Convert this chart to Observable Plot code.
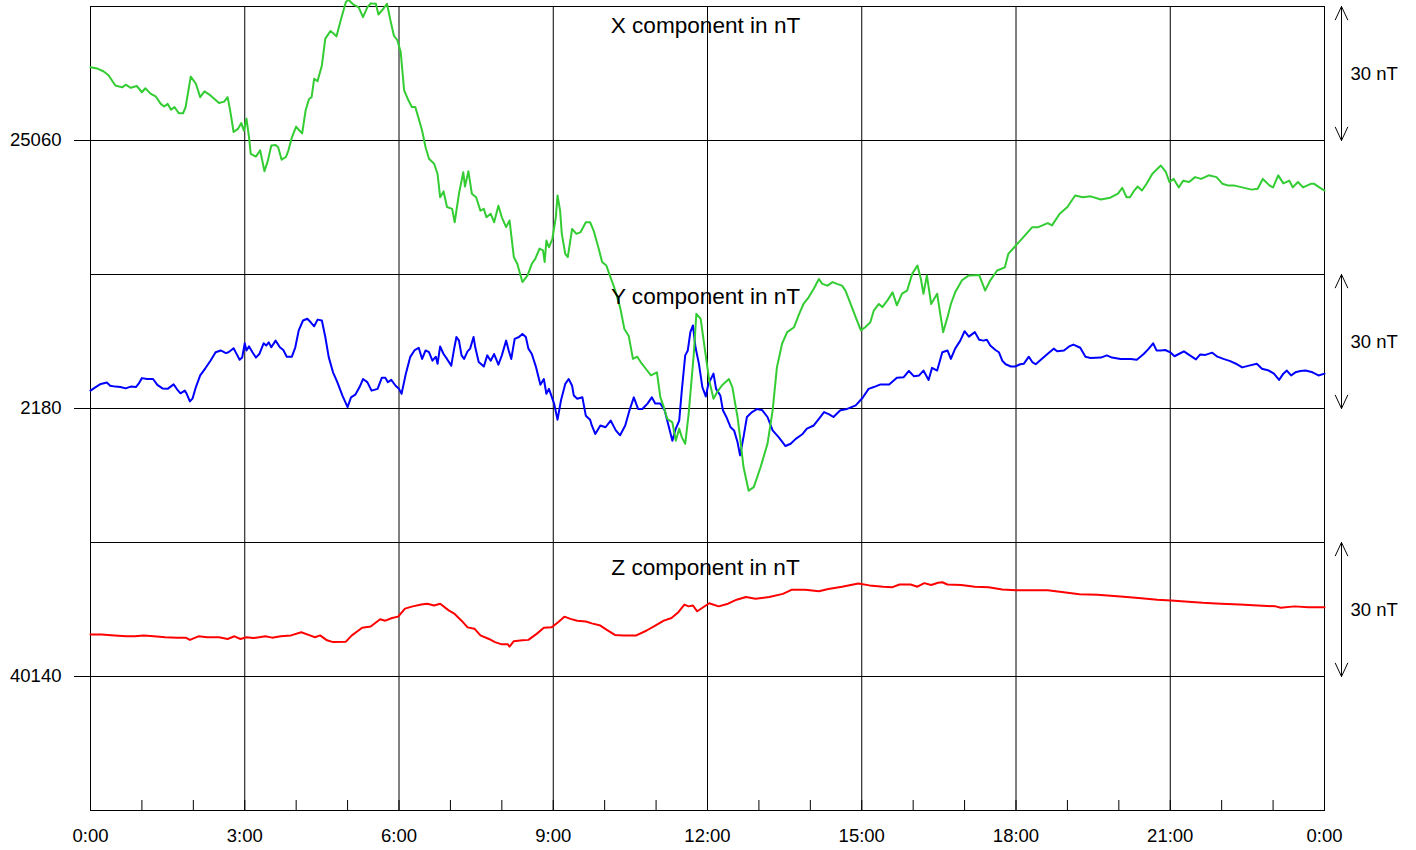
<!DOCTYPE html>
<html>
<head>
<meta charset="utf-8">
<script src="https://cdn.jsdelivr.net/npm/d3@7"></script>
<script src="https://cdn.jsdelivr.net/npm/@observablehq/plot@0.6"></script>
<style>
  html, body { margin: 0; padding: 0; background: #ffffff; }
  #chart svg { display: block; }
</style>
</head>
<body>
<div id="chart"></div>
<script>
// ---- Data (time in minutes since 0:00, value in nT) ----
const xComponent = [[0,25076.4],[8,25076.1],[15,25075.5],[21,25074.6],[29,25072.3],[37,25071.9],[41,25072.5],[47,25071.8],[54,25072.2],[60,25070.8],[64,25071.7],[70,25070.5],[76,25069.9],[82,25068.2],[86,25067.6],[90,25068.2],[94,25066.9],[98,25067.5],[103,25066.1],[108,25066.1],[111,25067.5],[117,25074.3],[123,25072.7],[128,25069.7],[133,25071.0],[140,25070.1],[150,25068.4],[156,25068.7],[160,25069.7],[163,25066.7],[167,25061.9],[172,25062.6],[176,25063.9],[179,25062.2],[182,25064.9],[185,25060.7],[187,25057.0],[193,25056.4],[198,25057.8],[200,25055.9],[203,25053.1],[207,25055.5],[211,25058.9],[216,25059.0],[219,25058.5],[223,25055.7],[228,25056.3],[231,25057.8],[235,25060.7],[240,25063.1],[243,25062.4],[247,25061.6],[251,25066.7],[255,25069.3],[258,25069.7],[261,25073.8],[265,25073.3],[270,25076.8],[274,25082.8],[280,25084.5],[284,25083.9],[287,25083.3],[292,25086.9],[298,25091.0],[301,25091.5],[307,25090.4],[313,25089.8],[318,25087.6],[323,25089.8],[327,25090.7],[333,25090.6],[336,25088.2],[340,25089.1],[346,25090.6],[350,25086.9],[354,25083.5],[358,25082.5],[362,25079.8],[366,25071.2],[371,25069.0],[375,25067.5],[379,25067.5],[383,25064.9],[387,25062.2],[391,25058.5],[395,25055.9],[401,25054.8],[405,25052.5],[408,25047.3],[412,25048.6],[416,25045.1],[422,25044.7],[425,25041.7],[430,25048.1],[435,25052.9],[437,25049.7],[441,25053.1],[445,25048.1],[450,25047.3],[455,25044.3],[459,25044.7],[462,25042.8],[467,25043.6],[471,25041.7],[476,25045.4],[480,25042.8],[485,25040.6],[489,25042.1],[494,25033.9],[498,25032.4],[504,25028.3],[510,25029.8],[515,25032.4],[519,25033.5],[524,25035.8],[528,25035.4],[530,25032.8],[532,25037.6],[535,25036.1],[539,25038.0],[543,25042.8],[545,25047.7],[548,25044.3],[550,25039.1],[554,25034.6],[557,25033.9],[562,25040.2],[567,25039.1],[572,25039.5],[578,25041.7],[583,25041.7],[587,25039.9],[593,25035.8],[597,25032.8],[602,25032.0],[606,25029.8],[611,25027.2],[618,25022.7],[623,25017.8],[628,25016.3],[633,25011.1],[638,25011.6],[642,25010.4],[648,25008.9],[654,25007.4],[661,25008.1],[665,25002.5],[669,25000.3],[673,24997.7],[679,24996.9],[683,24992.8],[687,24995.5],[690,24993.6],[694,24992.1],[698,24998.8],[704,25012.2],[707,25021.2],[712,25020.1],[716,25014.5],[722,25006.3],[727,25002.2],[731,25003.6],[737,25005.2],[745,25006.6],[749,25004.8],[755,24998.1],[758,24993.6],[762,24986.9],[768,24981.6],[774,24982.4],[782,24986.9],[790,24992.1],[796,24999.6],[801,25009.2],[807,25014.5],[813,25017.1],[821,25018.2],[827,25021.2],[832,25023.4],[838,25024.9],[844,25026.8],[850,25029.0],[854,25027.9],[860,25027.5],[866,25028.3],[871,25027.9],[877,25027.5],[881,25026.4],[887,25023.4],[893,25020.4],[899,25017.5],[904,25018.2],[910,25019.3],[914,25021.9],[920,25023.4],[924,25022.7],[930,25024.2],[936,25026.0],[941,25023.1],[947,25025.7],[953,25026.4],[959,25030.2],[965,25032.0],[969,25029.0],[972,25025.7],[976,25029.8],[981,25023.4],[988,25025.7],[991,25021.9],[995,25017.1],[1000,25020.4],[1004,25023.4],[1009,25026.0],[1017,25028.7],[1025,25029.8],[1037,25029.9],[1041,25027.9],[1044,25026.4],[1050,25028.7],[1058,25030.9],[1067,25031.6],[1071,25034.6],[1078,25036.1],[1085,25037.6],[1092,25039.1],[1099,25040.6],[1106,25040.6],[1117,25041.5],[1122,25041.0],[1131,25043.6],[1140,25045.1],[1149,25047.7],[1158,25047.3],[1167,25047.5],[1179,25046.8],[1190,25047.2],[1199,25048.1],[1204,25049.4],[1209,25047.3],[1213,25047.3],[1218,25048.8],[1222,25049.7],[1227,25048.8],[1232,25050.2],[1239,25052.5],[1243,25053.3],[1249,25054.4],[1255,25052.9],[1259,25050.7],[1264,25051.4],[1270,25049.5],[1275,25051.0],[1282,25050.7],[1289,25051.8],[1296,25051.4],[1305,25052.2],[1314,25051.8],[1321,25050.3],[1328,25049.9],[1335,25049.9],[1344,25049.5],[1355,25049.0],[1362,25049.2],[1368,25051.4],[1376,25049.9],[1380,25049.5],[1386,25052.2],[1392,25050.4],[1399,25051.0],[1403,25049.5],[1409,25050.7],[1415,25049.5],[1424,25050.3],[1428,25050.3],[1434,25049.5],[1440,25048.8]];

const yComponent = [[0,2184.0],[6,2184.8],[12,2185.5],[19,2185.8],[23,2185.1],[29,2184.9],[35,2184.8],[41,2184.5],[47,2184.9],[53,2184.8],[56,2185.5],[60,2186.8],[66,2186.6],[73,2186.6],[78,2185.3],[84,2184.5],[90,2184.4],[97,2185.4],[101,2184.3],[105,2183.4],[110,2184.0],[112,2183.4],[116,2181.6],[119,2182.2],[123,2184.8],[128,2187.4],[134,2189.0],[140,2190.7],[146,2192.6],[152,2193.0],[158,2192.4],[161,2192.6],[167,2193.5],[170,2192.4],[174,2190.9],[177,2191.4],[180,2194.6],[182,2193.0],[185,2193.9],[189,2192.6],[193,2191.4],[197,2192.2],[202,2194.6],[205,2194.1],[208,2194.8],[211,2193.7],[216,2195.2],[221,2193.7],[225,2193.1],[229,2191.6],[235,2191.6],[239,2193.7],[243,2197.5],[248,2199.7],[253,2200.1],[257,2199.3],[261,2198.4],[265,2199.9],[270,2199.7],[274,2196.0],[278,2191.5],[283,2188.1],[288,2185.9],[294,2182.9],[300,2180.3],[304,2182.5],[309,2183.1],[314,2184.8],[318,2186.6],[323,2185.9],[328,2184.0],[335,2184.4],[340,2186.9],[344,2186.9],[347,2185.9],[351,2186.4],[356,2185.1],[360,2184.4],[363,2183.3],[368,2187.8],[373,2191.5],[378,2193.0],[383,2193.6],[387,2191.1],[391,2193.0],[395,2192.6],[399,2190.7],[403,2191.6],[405,2190.0],[408,2193.9],[412,2192.2],[416,2191.1],[421,2189.6],[424,2193.0],[427,2196.0],[430,2195.2],[433,2191.9],[436,2191.1],[440,2192.8],[443,2193.4],[447,2196.0],[449,2193.7],[453,2190.4],[459,2189.4],[463,2191.9],[467,2190.7],[471,2192.2],[476,2189.8],[480,2191.9],[485,2195.2],[488,2193.0],[491,2191.1],[495,2195.6],[500,2196.0],[504,2196.7],[508,2196.0],[511,2193.4],[515,2192.2],[520,2189.2],[525,2185.3],[529,2186.6],[532,2183.3],[535,2184.4],[541,2181.1],[545,2177.5],[549,2181.8],[554,2185.5],[558,2186.6],[562,2185.1],[564,2182.9],[568,2182.2],[574,2182.5],[578,2178.4],[583,2177.5],[585,2176.2],[589,2174.3],[595,2176.2],[601,2175.8],[607,2177.3],[613,2175.1],[618,2174.0],[624,2176.2],[629,2179.6],[634,2182.5],[639,2179.9],[644,2179.9],[650,2181.1],[655,2182.5],[659,2181.1],[665,2181.1],[670,2179.6],[675,2175.8],[679,2172.8],[683,2175.5],[687,2177.3],[690,2184.0],[694,2191.9],[697,2193.0],[700,2197.1],[703,2198.6],[706,2193.7],[710,2190.0],[714,2184.8],[718,2182.7],[721,2185.5],[727,2187.8],[730,2184.4],[735,2182.9],[738,2179.6],[742,2178.1],[747,2175.8],[751,2175.1],[755,2172.5],[758,2169.5],[762,2173.6],[766,2178.1],[772,2179.2],[778,2179.9],[784,2179.6],[790,2178.1],[796,2175.1],[803,2173.6],[811,2171.6],[817,2172.1],[823,2173.2],[831,2174.3],[836,2175.5],[844,2176.2],[850,2177.7],[856,2179.2],[862,2178.7],[867,2178.1],[875,2179.6],[883,2179.9],[893,2180.7],[901,2182.4],[908,2184.4],[914,2184.8],[922,2185.4],[932,2185.4],[941,2186.9],[949,2187.0],[955,2188.4],[961,2187.2],[967,2187.4],[972,2188.5],[978,2186.4],[982,2189.1],[988,2188.5],[994,2192.6],[1000,2193.0],[1004,2191.1],[1009,2193.4],[1015,2195.2],[1020,2197.3],[1025,2196.1],[1032,2197.1],[1037,2195.4],[1042,2195.2],[1046,2195.4],[1050,2194.1],[1056,2193.1],[1060,2192.6],[1064,2190.7],[1068,2189.9],[1074,2189.4],[1079,2189.4],[1085,2189.9],[1089,2190.0],[1095,2191.6],[1099,2190.4],[1103,2189.9],[1109,2190.9],[1116,2192.1],[1124,2193.4],[1128,2192.8],[1136,2193.0],[1142,2193.9],[1147,2194.3],[1155,2193.6],[1161,2191.6],[1167,2191.3],[1179,2191.4],[1186,2191.9],[1192,2191.4],[1202,2191.1],[1214,2191.1],[1221,2190.9],[1229,2192.2],[1235,2193.4],[1240,2194.6],[1244,2193.0],[1249,2193.0],[1254,2193.1],[1260,2192.6],[1265,2191.7],[1270,2192.2],[1276,2192.8],[1282,2192.0],[1290,2191.0],[1295,2192.1],[1301,2192.0],[1309,2192.5],[1315,2191.6],[1322,2191.1],[1330,2190.6],[1338,2189.9],[1344,2189.2],[1352,2189.6],[1361,2190.0],[1367,2188.9],[1375,2188.5],[1381,2187.8],[1387,2186.4],[1392,2187.8],[1396,2188.5],[1401,2187.4],[1406,2188.1],[1412,2188.4],[1418,2188.5],[1426,2188.1],[1433,2187.4],[1440,2187.8]];

const zComponent = [[0,40149.4],[13,40149.4],[28,40149.2],[42,40149.0],[52,40149.0],[62,40149.2],[74,40149.0],[87,40148.8],[101,40148.7],[111,40148.7],[116,40148.2],[126,40149.0],[136,40148.8],[150,40148.8],[160,40148.4],[168,40149.0],[175,40148.4],[182,40148.8],[190,40148.6],[197,40148.8],[204,40149.0],[212,40148.7],[222,40149.0],[234,40149.2],[246,40149.9],[256,40149.2],[262,40148.8],[268,40149.2],[276,40148.1],[283,40147.7],[298,40147.8],[305,40149.2],[317,40150.9],[327,40151.2],[338,40152.8],[344,40152.5],[352,40153.1],[359,40153.4],[367,40155.2],[376,40155.7],[386,40156.1],[393,40156.3],[401,40155.9],[408,40156.3],[418,40154.8],[425,40154.0],[433,40152.5],[440,40151.0],[448,40150.7],[455,40149.2],[465,40148.4],[472,40147.7],[480,40147.2],[487,40147.2],[489,40146.7],[494,40147.9],[504,40148.1],[511,40148.2],[521,40149.6],[529,40150.9],[538,40151.0],[546,40152.2],[553,40153.4],[560,40152.9],[568,40152.5],[578,40152.3],[585,40151.9],[595,40151.4],[602,40150.5],[612,40149.3],[622,40149.2],[637,40149.2],[649,40150.3],[659,40151.4],[669,40152.5],[678,40153.1],[686,40154.4],[693,40156.1],[698,40155.7],[703,40155.9],[708,40154.6],[715,40155.5],[722,40156.4],[733,40155.7],[744,40156.3],[754,40157.2],[765,40157.8],[776,40157.4],[792,40157.8],[808,40158.5],[818,40159.4],[834,40159.4],[850,40159.1],[861,40159.6],[877,40160.1],[896,40160.8],[909,40160.4],[925,40160.1],[936,40160.0],[944,40160.6],[957,40160.6],[965,40160.1],[973,40160.9],[981,40160.5],[989,40161.0],[994,40161.1],[1000,40160.6],[1016,40160.5],[1032,40160.1],[1048,40160.0],[1064,40159.5],[1080,40159.3],[1096,40159.3],[1117,40159.3],[1138,40158.8],[1154,40158.4],[1175,40158.3],[1202,40157.9],[1223,40157.6],[1245,40157.2],[1261,40157.0],[1277,40156.8],[1298,40156.5],[1319,40156.3],[1341,40156.1],[1362,40155.9],[1383,40155.7],[1389,40155.4],[1405,40155.7],[1421,40155.5],[1440,40155.5]];

const componentNames = ["X", "Y", "Z"];
const baselineValues = [25060, 2180, 40140];       // labelled gridline of each panel
const panelSpan = 60;                                // nT shown per panel
const rangeLabel = "30 nT";
const majorTicks = [0, 180, 360, 540, 720, 900, 1080, 1260, 1440];
const timeLabels = ["0:00", "3:00", "6:00", "9:00", "12:00", "15:00", "18:00", "21:00", "0:00"];
const hourTicks = d3.range(0, 1441, 60);

// ---- Stack the three panels on one shared y scale (units: nT) ----
const panelBase = (p) => panelSpan * (2 - p) + 30;   // y position of the labelled baseline
const stacked = (series, p) =>
  series.map(([t, v]) => ({t, y: v - baselineValues[p] + panelBase(p), comp: componentNames[p]}));

const rowsX = stacked(xComponent, 0);
const rowsY = stacked(yComponent, 1);
const rowsZ = stacked(zComponent, 2);
const panels = [0, 1, 2];
const font = "'Liberation Sans', Arial, Helvetica, sans-serif";

const chart = Plot.plot({
  width: 1416,
  height: 850,
  marginLeft: 90,
  marginRight: 92,
  marginTop: 6,
  marginBottom: 40,
  style: {fontFamily: font, fontSize: "18px", background: "#ffffff", color: "#000000"},
  x: {domain: [0, 1440], label: null},
  y: {domain: [0, panelSpan * 3], label: null},
  marks: [
    Plot.gridX(majorTicks, {stroke: "#000000", strokeOpacity: 1, strokeWidth: 1}),
    Plot.gridY(d3.range(0, panelSpan * 3 + 1, 30), {stroke: "#000000", strokeOpacity: 1, strokeWidth: 1}),
    Plot.frame({stroke: "#000000", strokeWidth: 1}),
    Plot.axisY(panels.map(panelBase), {
      tickSize: 16, tickPadding: 13, fontSize: 18.5, label: null,
      tickFormat: (d) => String(baselineValues[panels.find((p) => panelBase(p) === d)])
    }),
    Plot.axisX(hourTicks, {tickSize: -10, tickFormat: () => "", label: null, stroke: "#000000"}),
    Plot.axisX(majorTicks, {
      tickSize: 0, tickPadding: 18, fontSize: 18.5, label: null,
      tickFormat: (d) => timeLabels[majorTicks.indexOf(d)]
    }),
    Plot.line(rowsY, {x: "t", y: "y", stroke: "#0000ff", strokeWidth: 2, clip: false}),
    Plot.line(rowsX, {x: "t", y: "y", stroke: "#33cc33", strokeWidth: 2, clip: false}),
    Plot.line(rowsZ, {x: "t", y: "y", stroke: "#ff0000", strokeWidth: 2, clip: false}),
    // panel titles
    Plot.text(panels, {
      text: (p) => `${componentNames[p]} component in nT`,
      y: (p) => [177.6, 116.9, 56.3][p],
      lineAnchor: "top", dx: -2, fontSize: 22.6, fill: "#000000"
    }),
    // 30 nT scale arrows (double headed)
    Plot.arrow(panels, {
      x1: 1440, x2: 1440,
      y1: (p) => panelBase(p) + 15, y2: (p) => panelBase(p) + 30,
      dx: 17, stroke: "#000000", strokeWidth: 1, headLength: 22, headAngle: 50
    }),
    Plot.arrow(panels, {
      x1: 1440, x2: 1440,
      y1: (p) => panelBase(p) + 15, y2: (p) => panelBase(p),
      dx: 17, stroke: "#000000", strokeWidth: 1, headLength: 22, headAngle: 50
    }),
    Plot.text(panels, {
      x: 1440, y: (p) => panelBase(p) + 15, text: () => rangeLabel,
      dx: 26, dy: 1, textAnchor: "start", fontSize: 18.5, fill: "#000000"
    })
  ]
});

document.getElementById("chart").appendChild(chart);
</script>
</body>
</html>
